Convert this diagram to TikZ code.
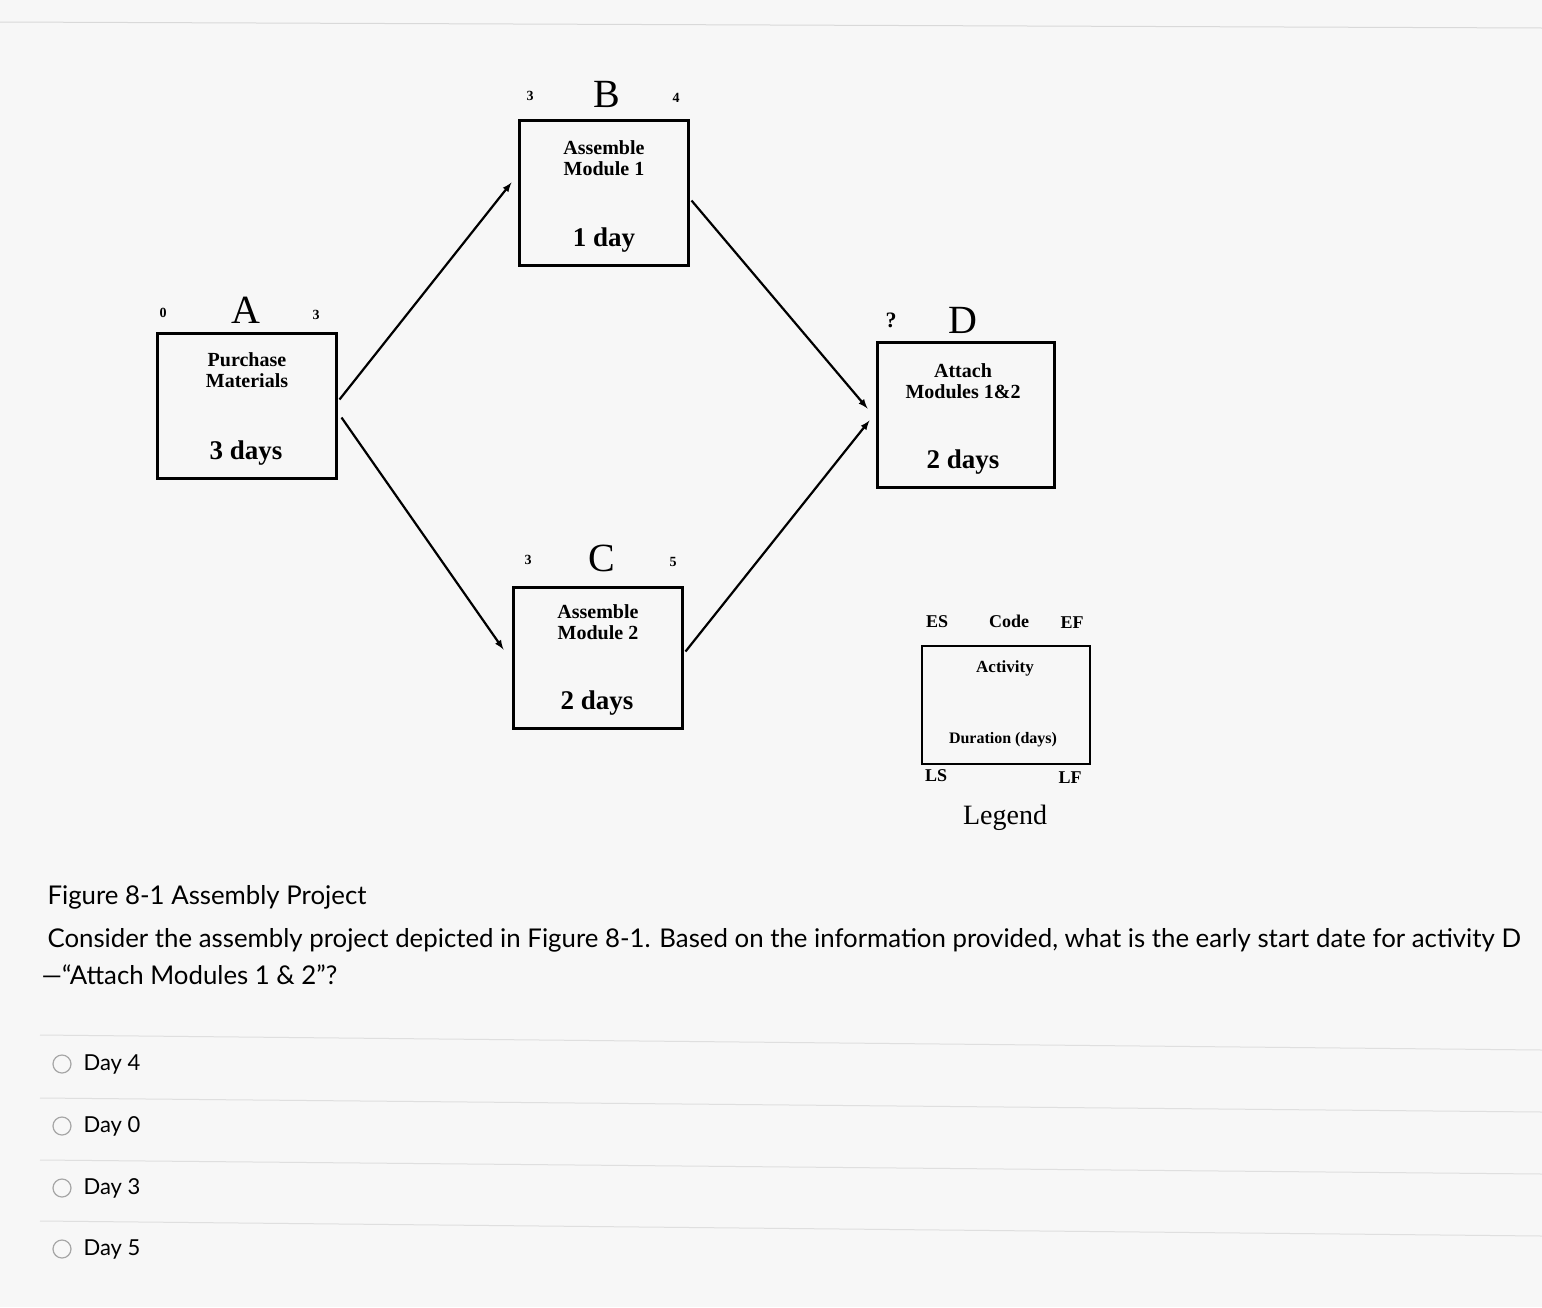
\documentclass[tikz,border=0pt]{standalone}
\usepackage{fontspec}
\setmainfont{Liberation Serif}
\newfontfamily\qfont{Lato}
\begin{document}
\begin{tikzpicture}[x=1pt,y=-1pt,
  act/.style={draw,line width=3pt,inner sep=0pt},
  lab/.style={font=\bfseries\fontsize{14}{16}\selectfont},
  big/.style={font=\fontsize{40}{44}\selectfont},
  intext/.style={font=\bfseries\fontsize{20}{21}\selectfont,align=center},
  dur/.style={font=\bfseries\fontsize{27}{30}\selectfont},
  conn/.style={line width=2.2pt,-latex},
  q/.style={font=\qfont\fontsize{25.8}{30}\selectfont,anchor=west},
  sep/.style={draw=gray!25,line width=1pt}]
\fill[gray!6] (0,0) rectangle (1542,1307);
\useasboundingbox (0,0) rectangle (1542,1307);
\draw[gray!30,line width=1pt] (0,22) -- (1542,28);
% boxes
\node[act,minimum width=179pt,minimum height=145pt] (A) at (246.5,405.5) {};
\node[act,minimum width=169pt,minimum height=145pt] (B) at (603.5,192.5) {};
\node[act,minimum width=169pt,minimum height=141pt] (C) at (597.5,657.5) {};
\node[act,minimum width=177pt,minimum height=145pt] (D) at (965.5,414.5) {};
\node[act,minimum width=168pt,minimum height=118pt,line width=2.5pt] (L) at (1006,705) {};
% labels
\node[lab] (a0) at (163,313) {0}; \node[big] (aA) at (246,310) {A}; \node[lab] (a3) at (316,315) {3};
\node[intext] (at) at (247,370) {Purchase\\Materials}; \node[dur] (ad) at (246,453) {3 days};
\node[lab] (b3) at (530,96) {3}; \node[big] (bB) at (607,94) {B}; \node[lab] (b4) at (676,98) {4};
\node[intext] (bt) at (604,158) {Assemble\\Module 1}; \node[dur] (bd) at (604,240) {1 day};
\node[lab] (c3) at (528,560) {3}; \node[big] (cC) at (602,558) {C}; \node[lab] (c5) at (673,562) {5};
\node[intext] (ct) at (598,622) {Assemble\\Module 2}; \node[dur] (cd) at (597,703) {2 days};
\node[lab,font=\bfseries\fontsize{22}{24}\selectfont] (dq) at (891,320) {?}; \node[big] (dD) at (963,320) {D};
\node[intext] (dt) at (963,381) {Attach\\Modules 1\&2}; \node[dur] (dd) at (963,462) {2 days};
\node[intext,font=\bfseries\fontsize{18}{20}\selectfont] (es) at (937,622) {ES};
\node[intext,font=\bfseries\fontsize{18}{20}\selectfont] (code) at (1009,621) {Code};
\node[intext,font=\bfseries\fontsize{18}{20}\selectfont] (ef) at (1072,623) {EF};
\node[intext,font=\bfseries\fontsize{17}{20}\selectfont] (lact) at (1005,668) {Activity};
\node[intext,font=\bfseries\fontsize{16}{20}\selectfont] (ldur) at (1003,740) {Duration (days)};
\node[intext,font=\bfseries\fontsize{18}{20}\selectfont] (ls) at (936,776) {LS};
\node[intext,font=\bfseries\fontsize{18}{20}\selectfont] (lf) at (1070,778) {LF};
\node[font=\fontsize{28}{30}\selectfont] (leg) at (1005,818) {Legend};
% connectors
\draw[conn] ([xshift=2pt,yshift=6pt]A.east) -- ([xshift=-6pt,yshift=10pt]B.west);
\draw[conn] ([xshift=2pt,yshift=-8pt]B.east) -- ([xshift=-8pt,yshift=6pt]D.west);
\draw[conn] ([xshift=4pt,yshift=-12pt]A.east) -- ([xshift=-8pt,yshift=8pt]C.west);
\draw[conn] ([xshift=2pt,yshift=6pt]C.east) -- ([xshift=-6pt,yshift=-6pt]D.west);
% question
\node[q] (fig) at (44,897) {Figure 8-1 Assembly Project};
\node[q] (l1) at (44,940) {Consider the assembly project depicted in Figure 8-1. Based on the information provided, what is the early start date for activity D};
\node[q] (l2) at (38,975) {—“Attach Modules 1 \& 2”?};
\draw[sep] (40,1035) -- (1542,1050);
\draw[sep] (40,1098) -- (1542,1112);
\draw[sep] (40,1160) -- (1542,1174);
\draw[sep] (40,1221) -- (1542,1236);
\foreach \yy/\t [count=\i] in {1064/Day 4,1126/Day 0,1188/Day 3,1249/Day 5}{
  \node[draw=gray!70,circle,minimum size=18pt,line width=1.2pt] (o\i) at (62,\yy) {};
  \node[q,font=\qfont\fontsize{22}{26}\selectfont] (t\i) at (80,\yy) {\t};
}
\end{tikzpicture}
\end{document}
